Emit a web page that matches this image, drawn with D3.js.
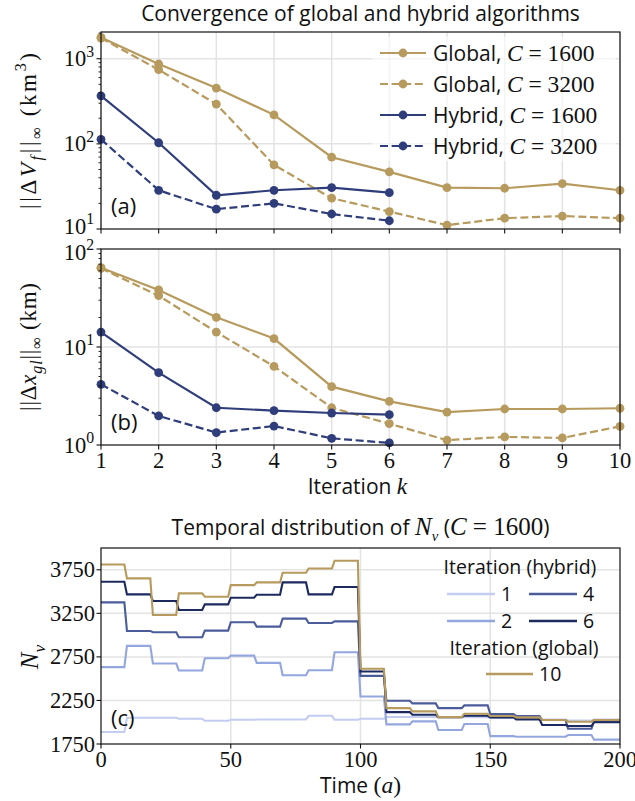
<!DOCTYPE html>
<html>
<head>
<meta charset="utf-8">
<script src="https://cdn.jsdelivr.net/npm/d3@7"></script>
<style>
  html, body { margin: 0; padding: 0; background: #fff; }
  svg { display: block; }
</style>
</head>
<body>
<svg id="fig" width="635" height="801"></svg>
<script>
// ---- data -------------------------------------------------------------
const iterations = [1, 2, 3, 4, 5, 6, 7, 8, 9, 10];

// max volume change per iteration (km^3)
const dVGlobal1600 = [1780, 867, 452, 219, 69.7, 46.8, 30.6, 30.1, 34.1, 28.5];
const dVGlobal3200 = [1750, 743, 293, 56.6, 23.0, 16.0, 11.1, 13.4, 14.2, 13.4];
const dVHybrid1600 = [367, 103, 24.9, 28.5, 30.6, 26.7];
const dVHybrid3200 = [113, 28.5, 17.1, 20.0, 15.0, 12.5];

// max grounding-line displacement per iteration (km)
const dxGlobal1600 = [64.4, 38.2, 20.1, 12.2, 3.94, 2.79, 2.17, 2.33, 2.33, 2.37];
const dxGlobal3200 = [63.5, 33.4, 14.2, 6.35, 2.40, 1.65, 1.12, 1.21, 1.18, 1.55];
const dxHybrid1600 = [14.2, 5.47, 2.40, 2.24, 2.12, 2.04];
const dxHybrid3200 = [4.16, 1.98, 1.34, 1.56, 1.17, 1.05];

// N_v per 10-year interval, time 0..200 a
const intervalStart = [0, 10, 20, 30, 40, 50, 60, 70, 80, 90, 100, 110, 120, 130, 140, 150, 160, 170, 180, 190];
const nvHybrid1 = [1887, 2052, 2052, 2040, 2017, 2029, 2032, 2032, 2074, 2029, 2040, 2060, 2060, 2058, 2058, 2050, 2040, 2030, 2020, 2030];
const nvHybrid2 = [2632, 2876, 2674, 2594, 2735, 2765, 2681, 2540, 2597, 2803, 2296, 1975, 2010, 1910, 1980, 1840, 1834, 1834, 1853, 1800];
const nvHybrid4 = [3376, 3048, 3033, 2975, 3052, 3147, 3097, 3189, 3139, 3158, 2532, 2246, 2216, 2162, 2193, 2094, 2071, 2025, 1925, 2010];
const nvHybrid6 = [3613, 3468, 3391, 3288, 3353, 3429, 3464, 3605, 3468, 3552, 2582, 2116, 2086, 2059, 2074, 2056, 2033, 1968, 1956, 2000];
const nvGlobal10 = [3811, 3651, 3231, 3479, 3441, 3574, 3605, 3716, 3765, 3853, 2613, 2162, 2124, 2059, 2097, 2071, 2056, 2025, 2006, 2025];

const logTicksA = [10, 100, 1000];
const logTicksB = [1, 10, 100];
const nvTicks = [1750, 2250, 2750, 3250, 3750];
const timeTicks = [0, 50, 100, 150, 200];

// ---- style ------------------------------------------------------------
const SANS = "'Open Sans', Lato, sans-serif";
const SERIF = "'Liberation Serif', 'DejaVu Serif', serif";
const GOLD = "#b79a5d";
const NAVY = "#2f3e7b";
const GRID = "#e3e3e3";
const TICK_SIZE = 22.5;
const TEXT_SIZE = 21;
const MATH_SIZE = 23.5;
const iterColors = { 1: "#c3cdf1", 2: "#94a6de", 4: "#4b5c9b", 6: "#1d2a5f", 10: GOLD };

const svg = d3.select("#fig");
const L = 101, R = 620;

// rich text: segments of sans/serif, italic, sub/superscript
function rich(parent, x, y, segs, size, anchor) {
  const t = parent.append("text").attr("x", x).attr("y", y)
    .attr("text-anchor", anchor || "start")
    .style("font-size", size + "px").attr("fill", "#111");
  let shift = 0;
  segs.forEach(s => {
    const ts = t.append("tspan").text(s.t)
      .style("font-family", s.f === "serif" ? SERIF : SANS);
    if (s.i) ts.style("font-style", "italic");
    if (s.fs) ts.style("font-size", s.fs + "px");
    const target = s.sub ? 0.28 * size : s.sup ? -0.42 * size : 0;
    if (target !== shift) { ts.attr("dy", target - shift); shift = target; }
    if (s.sub || s.sup) ts.style("font-size", (size * 0.7) + "px");
  });
  return t;
}

// ---- convergence panels ---------------------------------------------
// nudge: small vertical offsets for the bottom/top decade labels so the
// two stacked panels' labels do not collide
function convPanel(top, bottom, domain, majors, series, tag, showXLabels, nudge) {
  const g = svg.append("g");
  const x = d3.scaleLinear().domain([1, 10]).range([L, R]);
  const y = d3.scaleLog().domain(domain).range([bottom, top]);

  // grid
  g.selectAll(".gx").data(iterations).join("line")
    .attr("x1", d => x(d)).attr("x2", d => x(d)).attr("y1", top).attr("y2", bottom)
    .attr("stroke", GRID).attr("stroke-width", 1.5);
  g.selectAll(".gy").data(majors.filter(d => d > domain[0] && d < domain[1])).join("line")
    .attr("x1", L).attr("x2", R).attr("y1", d => y(d)).attr("y2", d => y(d))
    .attr("stroke", GRID).attr("stroke-width", 1.5);

  // lines + markers
  const line = d3.line().x((d, i) => x(iterations[i])).y(d => y(d));
  series.forEach(s => {
    g.append("path").attr("d", line(s.values)).attr("fill", "none")
      .attr("stroke", s.color).attr("stroke-width", 2.2)
      .attr("stroke-dasharray", s.dash ? "8,3.6" : null);
    g.selectAll(null).data(s.values).join("circle")
      .attr("cx", (d, i) => x(iterations[i])).attr("cy", d => y(d)).attr("r", 4.4)
      .attr("fill", s.color);
  });

  // frame
  g.append("rect").attr("x", L).attr("y", top).attr("width", R - L).attr("height", bottom - top)
    .attr("fill", "none").attr("stroke", "#111").attr("stroke-width", 1.2);

  // y ticks (major + minor)
  const minors = [];
  for (let dec = domain[0]; dec < domain[1]; dec *= 10)
    for (let m = 2; m <= 9; m++) if (dec * m < domain[1]) minors.push(dec * m);
  g.selectAll(".ymin").data(minors).join("line")
    .attr("x1", L - 2.5).attr("x2", L).attr("y1", d => y(d)).attr("y2", d => y(d))
    .attr("stroke", "#111").attr("stroke-width", 0.9);
  g.selectAll(".ymaj").data(majors).join("line")
    .attr("x1", L - 4.5).attr("x2", L).attr("y1", d => y(d)).attr("y2", d => y(d))
    .attr("stroke", "#111").attr("stroke-width", 1.1);
  majors.forEach(v => {
    const off = (nudge && nudge[v]) || 0;
    rich(g, L - 7, y(v) + 7.5 + off, [
      { t: "10", f: "serif" },
      { t: String(Math.round(Math.log10(v))), f: "serif", sup: true }
    ], TICK_SIZE, "end");
  });

  // x ticks
  g.selectAll(".xt").data(iterations).join("line")
    .attr("x1", d => x(d)).attr("x2", d => x(d)).attr("y1", bottom).attr("y2", bottom + 4.5)
    .attr("stroke", "#111").attr("stroke-width", 1.1);
  if (showXLabels) {
    g.selectAll(".xl").data(iterations).join("text")
      .attr("x", d => x(d)).attr("y", bottom + 23).attr("text-anchor", "middle")
      .style("font-family", SERIF).style("font-size", TICK_SIZE + "px").attr("fill", "#111")
      .text(d => d);
  }

  g.append("text").attr("x", L + 10).attr("y", bottom - 15)
    .style("font-family", SANS).style("font-size", "22px").attr("fill", "#111").text(tag);
  return { g, x, y };
}

// title
svg.append("text").attr("x", (L + R) / 2).attr("y", 21).attr("text-anchor", "middle")
  .style("font-family", SANS).style("font-size", TEXT_SIZE + "px").attr("fill", "#111")
  .text("Convergence of global and hybrid algorithms");

const seriesA = [
  { values: dVGlobal1600, color: GOLD, dash: false },
  { values: dVGlobal3200, color: GOLD, dash: true },
  { values: dVHybrid1600, color: NAVY, dash: false },
  { values: dVHybrid3200, color: NAVY, dash: true }
];
const seriesB = [
  { values: dxGlobal1600, color: GOLD, dash: false },
  { values: dxGlobal3200, color: GOLD, dash: true },
  { values: dxHybrid1600, color: NAVY, dash: false },
  { values: dxHybrid3200, color: NAVY, dash: true }
];
convPanel(32, 229, [10, 2060], logTicksA, seriesA, "(a)", false, { 10: -3 });
convPanel(249, 445, [1, 100], logTicksB, seriesB, "(b)", true, { 100: 3 });

// rotated axis label, stretched to its span along the axis
function rotLabel(cx, cy, segs, size, span) {
  const g = svg.append("g").attr("transform", `translate(${cx},${cy}) rotate(-90)`);
  const t = rich(g, 0, 0, segs, size, "middle");
  if (span) t.attr("textLength", span).attr("lengthAdjust", "spacing");
}
rotLabel(36, 131, [
  { t: "||Δ", f: "serif" }, { t: "V", f: "serif", i: true }, { t: "f", f: "serif", i: true, sub: true },
  { t: "||", f: "serif" }, { t: "∞", f: "serif", sub: true },
  { t: " (km", f: "serif" }, { t: "3", f: "serif", sup: true }, { t: ")", f: "serif" }
], 23, 156);
rotLabel(36, 347, [
  { t: "||Δ", f: "serif" }, { t: "x", f: "serif", i: true }, { t: "gl", f: "serif", i: true, sub: true },
  { t: "||", f: "serif" }, { t: "∞", f: "serif", sub: true },
  { t: " (km)", f: "serif" }
], 23, 128);

// x label of convergence panels
rich(svg, (L + R) / 2 - 3, 494, [
  { t: "Iteration ", f: "sans" }, { t: "k", f: "serif", i: true, fs: MATH_SIZE }
], TEXT_SIZE, "middle");

// legend of convergence panels
const legA = svg.append("g");
legA.append("rect").attr("x", 372).attr("y", 37).attr("width", 244).attr("height", 124)
  .attr("rx", 4).attr("fill", "#fff").attr("opacity", 0.6);
const legItems = [
  { c: GOLD, dash: false, name: "Global, ", val: "1600" },
  { c: GOLD, dash: true, name: "Global, ", val: "3200" },
  { c: NAVY, dash: false, name: "Hybrid, ", val: "1600" },
  { c: NAVY, dash: true, name: "Hybrid, ", val: "3200" }
];
legItems.forEach((d, i) => {
  const yy = 53 + i * 31;
  legA.append("line").attr("x1", 380).attr("x2", 426).attr("y1", yy).attr("y2", yy)
    .attr("stroke", d.c).attr("stroke-width", 2.2).attr("stroke-dasharray", d.dash ? "8,3.6" : null);
  legA.append("circle").attr("cx", 403).attr("cy", yy).attr("r", 4.4).attr("fill", d.c);
  rich(legA, 433, yy + 7.5, [
    { t: d.name, f: "sans" }, { t: "C", f: "serif", i: true, fs: MATH_SIZE },
    { t: " = " + d.val, f: "serif", fs: MATH_SIZE }
  ], TEXT_SIZE, "start");
});

// ---- N_v panel --------------------------------------------------------
const cTop = 548, cBot = 744;
const xc = d3.scaleLinear().domain([0, 200]).range([L, R]);
const yc = d3.scaleLinear().domain([1750, 4000]).range([cBot, cTop]);
const gc = svg.append("g");

gc.selectAll(".gx").data(timeTicks.slice(1, -1)).join("line")
  .attr("x1", d => xc(d)).attr("x2", d => xc(d)).attr("y1", cTop).attr("y2", cBot)
  .attr("stroke", GRID).attr("stroke-width", 1.5);
gc.selectAll(".gy").data(nvTicks.slice(1)).join("line")
  .attr("x1", L).attr("x2", R).attr("y1", d => yc(d)).attr("y2", d => yc(d))
  .attr("stroke", GRID).attr("stroke-width", 1.5);

// each interval holds its value, then steps to the next over one year
function stepPath(vals) {
  const pts = [];
  vals.forEach((v, i) => {
    pts.push([intervalStart[i], v]);
    pts.push([intervalStart[i] + 9, v]);
  });
  pts.push([200, vals[vals.length - 1]]);
  return d3.line().x(d => xc(d[0])).y(d => yc(d[1]))(pts);
}
const nvSeries = [
  { it: 1, values: nvHybrid1 },
  { it: 2, values: nvHybrid2 },
  { it: 4, values: nvHybrid4 },
  { it: 6, values: nvHybrid6 },
  { it: 10, values: nvGlobal10 }
];
nvSeries.forEach(s => {
  gc.append("path").attr("d", stepPath(s.values)).attr("fill", "none")
    .attr("stroke", iterColors[s.it]).attr("stroke-width", 2.1);
});

gc.append("rect").attr("x", L).attr("y", cTop).attr("width", R - L).attr("height", cBot - cTop)
  .attr("fill", "none").attr("stroke", "#111").attr("stroke-width", 1.2);

gc.selectAll(".yt").data(nvTicks).join("line")
  .attr("x1", L - 4.5).attr("x2", L).attr("y1", d => yc(d)).attr("y2", d => yc(d))
  .attr("stroke", "#111").attr("stroke-width", 1.1);
gc.selectAll(".yl").data(nvTicks).join("text")
  .attr("x", L - 6).attr("y", d => yc(d) + 7.5).attr("text-anchor", "end")
  .style("font-family", SERIF).style("font-size", TICK_SIZE + "px").attr("fill", "#111").text(d => d);
gc.selectAll(".xt").data(timeTicks).join("line")
  .attr("x1", d => xc(d)).attr("x2", d => xc(d)).attr("y1", cBot).attr("y2", cBot + 4.5)
  .attr("stroke", "#111").attr("stroke-width", 1.1);
gc.selectAll(".xl").data(timeTicks).join("text")
  .attr("x", d => xc(d)).attr("y", cBot + 23).attr("text-anchor", "middle")
  .style("font-family", SERIF).style("font-size", TICK_SIZE + "px").attr("fill", "#111").text(d => d);

gc.append("text").attr("x", L + 10).attr("y", cBot - 18)
  .style("font-family", SANS).style("font-size", "22px").attr("fill", "#111").text("(c)");

rich(svg, (L + R) / 2, 535, [
  { t: "Temporal distribution of ", f: "sans" }, { t: "N", f: "serif", i: true, fs: 25 },
  { t: "v", f: "serif", i: true, sub: true }, { t: " (", f: "sans" },
  { t: "C", f: "serif", i: true, fs: 25 }, { t: " = 1600", f: "serif", fs: 25 },
  { t: ")", f: "sans" }
], TEXT_SIZE, "middle");

rotLabel(38, 657, [{ t: "N", f: "serif", i: true }, { t: "v", f: "serif", i: true, sub: true }], 25);

rich(svg, (L + R) / 2, 793, [
  { t: "Time ", f: "sans" }, { t: "(", f: "serif", fs: MATH_SIZE },
  { t: "a", f: "serif", i: true, fs: MATH_SIZE }, { t: ")", f: "serif", fs: MATH_SIZE }
], TEXT_SIZE, "middle");

// legend of N_v panel
const legC = svg.append("g");
const LEG_SIZE = 19.5;
legC.append("text").attr("x", 520).attr("y", 574).attr("text-anchor", "middle")
  .style("font-family", SANS).style("font-size", LEG_SIZE + "px").attr("fill", "#111").text("Iteration (hybrid)");
const hyb = [
  { it: 1, col: 0, row: 0 }, { it: 4, col: 1, row: 0 },
  { it: 2, col: 0, row: 1 }, { it: 6, col: 1, row: 1 }
];
hyb.forEach(d => {
  const x0 = 447 + d.col * 82, yy = 594 + d.row * 27;
  legC.append("line").attr("x1", x0).attr("x2", x0 + 48).attr("y1", yy).attr("y2", yy)
    .attr("stroke", iterColors[d.it]).attr("stroke-width", 2.4);
  legC.append("text").attr("x", x0 + 54).attr("y", yy + 7)
    .style("font-family", SANS).style("font-size", LEG_SIZE + "px").attr("fill", "#111").text(d.it);
});
legC.append("text").attr("x", 524).attr("y", 655).attr("text-anchor", "middle")
  .style("font-family", SANS).style("font-size", LEG_SIZE + "px").attr("fill", "#111").text("Iteration (global)");
legC.append("line").attr("x1", 486).attr("x2", 533).attr("y1", 674).attr("y2", 674)
  .attr("stroke", iterColors[10]).attr("stroke-width", 2.4);
legC.append("text").attr("x", 539).attr("y", 681)
  .style("font-family", SANS).style("font-size", LEG_SIZE + "px").attr("fill", "#111").text("10");
</script>
</body>
</html>
